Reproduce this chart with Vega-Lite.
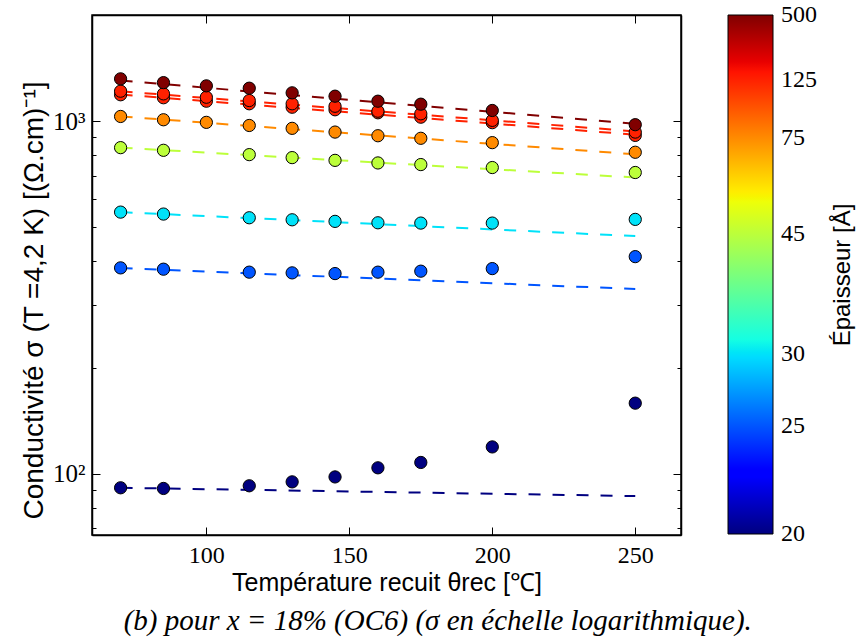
{
  "$schema": "https://vega.github.io/schema/vega-lite/v6.json",
  "width": 589,
  "height": 520,
  "autosize": "none",
  "padding": {"left": 92, "top": 15, "right": 179, "bottom": 105},
  "background": "white",
  "config": {
    "view": {"stroke": "black", "strokeWidth": 1.5},
    "axis": {"domainColor": "black", "domainWidth": 1.5, "tickColor": "black", "tickWidth": 1, "grid": false, "labelColor": "black", "titleColor": "black"}
  },
  "title": {"text": "(b) pour x = 18% (OC6) (σ en échelle logarithmique).", "orient": "bottom", "frame": "bounds", "anchor": "middle", "font": "Liberation Serif", "fontStyle": "italic", "fontWeight": "normal", "fontSize": 29, "offset": 12, "color": "black"},
  "data": {"values": [
    {"s": "S20", "ep": 20, "k": "pt", "x": 70, "v": 91.2},
    {"s": "S20", "ep": 20, "k": "pt", "x": 85, "v": 90.8},
    {"s": "S20", "ep": 20, "k": "pt", "x": 115, "v": 92.4},
    {"s": "S20", "ep": 20, "k": "pt", "x": 130, "v": 94.8},
    {"s": "S20", "ep": 20, "k": "pt", "x": 145, "v": 97.9},
    {"s": "S20", "ep": 20, "k": "pt", "x": 160, "v": 103.9},
    {"s": "S20", "ep": 20, "k": "pt", "x": 175, "v": 107.6},
    {"s": "S20", "ep": 20, "k": "pt", "x": 200, "v": 119.1},
    {"s": "S20", "ep": 20, "k": "pt", "x": 250, "v": 158.5},
    {"s": "S20", "ep": 20, "k": "fit", "x": 70, "v": 91.2},
    {"s": "S20", "ep": 20, "k": "fit", "x": 250, "v": 86.4},
    {"s": "S25", "ep": 25, "k": "pt", "x": 70, "v": 383.5},
    {"s": "S25", "ep": 25, "k": "pt", "x": 85, "v": 380.2},
    {"s": "S25", "ep": 25, "k": "pt", "x": 115, "v": 372.9},
    {"s": "S25", "ep": 25, "k": "pt", "x": 130, "v": 371.2},
    {"s": "S25", "ep": 25, "k": "pt", "x": 145, "v": 369.5},
    {"s": "S25", "ep": 25, "k": "pt", "x": 160, "v": 372.9},
    {"s": "S25", "ep": 25, "k": "pt", "x": 175, "v": 375.3},
    {"s": "S25", "ep": 25, "k": "pt", "x": 200, "v": 381.7},
    {"s": "S25", "ep": 25, "k": "pt", "x": 250, "v": 412.7},
    {"s": "S25", "ep": 25, "k": "fit", "x": 70, "v": 383},
    {"s": "S25", "ep": 25, "k": "fit", "x": 250, "v": 334},
    {"s": "S30", "ep": 30, "k": "pt", "x": 70, "v": 552},
    {"s": "S30", "ep": 30, "k": "pt", "x": 85, "v": 545},
    {"s": "S30", "ep": 30, "k": "pt", "x": 115, "v": 532},
    {"s": "S30", "ep": 30, "k": "pt", "x": 130, "v": 525},
    {"s": "S30", "ep": 30, "k": "pt", "x": 145, "v": 519.6},
    {"s": "S30", "ep": 30, "k": "pt", "x": 160, "v": 514.8},
    {"s": "S30", "ep": 30, "k": "pt", "x": 175, "v": 513.8},
    {"s": "S30", "ep": 30, "k": "pt", "x": 200, "v": 513.8},
    {"s": "S30", "ep": 30, "k": "pt", "x": 250, "v": 526.4},
    {"s": "S30", "ep": 30, "k": "fit", "x": 70, "v": 552},
    {"s": "S30", "ep": 30, "k": "fit", "x": 250, "v": 472},
    {"s": "S45", "ep": 45, "k": "pt", "x": 70, "v": 841},
    {"s": "S45", "ep": 45, "k": "pt", "x": 85, "v": 826.5},
    {"s": "S45", "ep": 45, "k": "pt", "x": 115, "v": 803.5},
    {"s": "S45", "ep": 45, "k": "pt", "x": 130, "v": 788},
    {"s": "S45", "ep": 45, "k": "pt", "x": 145, "v": 774},
    {"s": "S45", "ep": 45, "k": "pt", "x": 160, "v": 761},
    {"s": "S45", "ep": 45, "k": "pt", "x": 175, "v": 753},
    {"s": "S45", "ep": 45, "k": "pt", "x": 200, "v": 738.5},
    {"s": "S45", "ep": 45, "k": "pt", "x": 250, "v": 715},
    {"s": "S45", "ep": 45, "k": "fit", "x": 70, "v": 841},
    {"s": "S45", "ep": 45, "k": "fit", "x": 250, "v": 692},
    {"s": "S75", "ep": 75, "k": "pt", "x": 70, "v": 1031},
    {"s": "S75", "ep": 75, "k": "pt", "x": 85, "v": 1009},
    {"s": "S75", "ep": 75, "k": "pt", "x": 100, "v": 992},
    {"s": "S75", "ep": 75, "k": "pt", "x": 115, "v": 972},
    {"s": "S75", "ep": 75, "k": "pt", "x": 130, "v": 954},
    {"s": "S75", "ep": 75, "k": "pt", "x": 145, "v": 931},
    {"s": "S75", "ep": 75, "k": "pt", "x": 160, "v": 909},
    {"s": "S75", "ep": 75, "k": "pt", "x": 175, "v": 894},
    {"s": "S75", "ep": 75, "k": "pt", "x": 200, "v": 869},
    {"s": "S75", "ep": 75, "k": "pt", "x": 250, "v": 816},
    {"s": "S75", "ep": 75, "k": "fit", "x": 70, "v": 1031},
    {"s": "S75", "ep": 75, "k": "fit", "x": 250, "v": 805},
    {"s": "S125b", "ep": 125, "k": "pt", "x": 70, "v": 1188},
    {"s": "S125b", "ep": 125, "k": "pt", "x": 85, "v": 1165},
    {"s": "S125b", "ep": 125, "k": "pt", "x": 100, "v": 1139},
    {"s": "S125b", "ep": 125, "k": "pt", "x": 115, "v": 1120},
    {"s": "S125b", "ep": 125, "k": "pt", "x": 130, "v": 1095},
    {"s": "S125b", "ep": 125, "k": "pt", "x": 145, "v": 1077},
    {"s": "S125b", "ep": 125, "k": "pt", "x": 160, "v": 1056},
    {"s": "S125b", "ep": 125, "k": "pt", "x": 175, "v": 1026},
    {"s": "S125b", "ep": 125, "k": "pt", "x": 200, "v": 990},
    {"s": "S125b", "ep": 125, "k": "pt", "x": 250, "v": 911},
    {"s": "S125b", "ep": 125, "k": "fit", "x": 70, "v": 1190},
    {"s": "S125b", "ep": 125, "k": "fit", "x": 250, "v": 915},
    {"s": "S125a", "ep": 125, "k": "pt", "x": 70, "v": 1216},
    {"s": "S125a", "ep": 125, "k": "pt", "x": 85, "v": 1195},
    {"s": "S125a", "ep": 125, "k": "pt", "x": 100, "v": 1169},
    {"s": "S125a", "ep": 125, "k": "pt", "x": 115, "v": 1144},
    {"s": "S125a", "ep": 125, "k": "pt", "x": 130, "v": 1120},
    {"s": "S125a", "ep": 125, "k": "pt", "x": 145, "v": 1102},
    {"s": "S125a", "ep": 125, "k": "pt", "x": 160, "v": 1067},
    {"s": "S125a", "ep": 125, "k": "pt", "x": 175, "v": 1049},
    {"s": "S125a", "ep": 125, "k": "pt", "x": 200, "v": 1005},
    {"s": "S125a", "ep": 125, "k": "pt", "x": 250, "v": 931},
    {"s": "S125a", "ep": 125, "k": "fit", "x": 70, "v": 1215},
    {"s": "S125a", "ep": 125, "k": "fit", "x": 250, "v": 935},
    {"s": "S500", "ep": 500, "k": "pt", "x": 70, "v": 1318},
    {"s": "S500", "ep": 500, "k": "pt", "x": 85, "v": 1286},
    {"s": "S500", "ep": 500, "k": "pt", "x": 100, "v": 1259},
    {"s": "S500", "ep": 500, "k": "pt", "x": 115, "v": 1240},
    {"s": "S500", "ep": 500, "k": "pt", "x": 130, "v": 1203},
    {"s": "S500", "ep": 500, "k": "pt", "x": 145, "v": 1177},
    {"s": "S500", "ep": 500, "k": "pt", "x": 160, "v": 1139},
    {"s": "S500", "ep": 500, "k": "pt", "x": 175, "v": 1117},
    {"s": "S500", "ep": 500, "k": "pt", "x": 200, "v": 1072},
    {"s": "S500", "ep": 500, "k": "pt", "x": 250, "v": 977},
    {"s": "S500", "ep": 500, "k": "fit", "x": 70, "v": 1303},
    {"s": "S500", "ep": 500, "k": "fit", "x": 250, "v": 983}
  ]},
  "resolve": {"axis": {"x": "independent", "y": "independent"}},
  "layer": [
    {
      "transform": [{"filter": "datum.k == 'fit'"}],
      "mark": {"type": "line", "strokeDash": [12, 12], "strokeWidth": 2},
      "encoding": {
        "x": {"field": "x", "type": "quantitative",
          "scale": {"domain": [60, 266], "nice": false, "zero": false},
          "axis": {"orient": "bottom", "values": [100, 150, 200, 250], "tickSize": -8, "labelPadding": 16, "labelFont": "Liberation Serif", "labelFontSize": 24, "title": "Température recuit θrec [℃]", "titleFont": "Liberation Sans", "titleFontSize": 25, "titleFontWeight": "normal", "titlePadding": 3}},
        "y": {"field": "v", "type": "quantitative",
          "scale": {"type": "log", "domain": [67, 2000], "nice": false},
          "axis": {"orient": "left", "values": [70, 80, 90, 100, 200, 300, 400, 500, 600, 700, 800, 900, 1000],
            "labelExpr": "datum.value == 1000 ? '10³' : (datum.value == 100 ? '10²' : '')",
            "tickSize": {"condition": {"test": "datum.value == 100 || datum.value == 1000", "value": -8}, "value": -4},
            "labelPadding": 15, "labelFont": "Liberation Serif", "labelFontSize": 25,
            "title": "Conductivité σ (T =4,2 K) [(Ω.cm)⁻¹]", "titleFont": "Liberation Sans", "titleFontSize": 28, "titleFontWeight": "normal", "titlePadding": 4, "titleY": 285}},
        "stroke": {"field": "ep", "type": "quantitative", "legend": null,
          "scale": {"type": "pow", "exponent": -1, "interpolate": "rgb", "nice": false, "zero": false,
            "domain": [19.999, 22.361, 22.727, 29.691, 30.12, 31.25, 51.867, 53.191, 54.585, 137.36, 158.23, 500.001],
            "range": ["#000080", "#0000ff", "#0000ff", "#00dbff", "#00e5f7", "#15ffe2", "#eeff08", "#f7f500", "#ffec00", "#ff1300", "#e80000", "#800000"]}},
        "detail": {"field": "s"}
      }
    },
    {
      "transform": [{"filter": "datum.k == 'pt'"}],
      "mark": {"type": "circle", "size": 150, "stroke": "black", "strokeWidth": 1, "opacity": 1},
      "encoding": {
        "x": {"field": "x", "type": "quantitative",
          "axis": {"orient": "top", "values": [100, 150, 200, 250], "tickSize": -8, "labels": false, "title": null}},
        "y": {"field": "v", "type": "quantitative",
          "axis": {"orient": "right", "values": [70, 80, 90, 100, 200, 300, 400, 500, 600, 700, 800, 900, 1000],
            "tickSize": {"condition": {"test": "datum.value == 100 || datum.value == 1000", "value": -8}, "value": -4},
            "labels": false, "title": null}},
        "fill": {"field": "ep", "type": "quantitative",
          "scale": {"type": "pow", "exponent": -1, "interpolate": "rgb", "nice": false, "zero": false,
            "domain": [20, 22.361, 22.727, 29.691, 30.12, 31.25, 51.867, 53.191, 54.585, 137.36, 158.23, 500],
            "range": ["#000080", "#0000ff", "#0000ff", "#00dbff", "#00e5f7", "#15ffe2", "#eeff08", "#f7f500", "#ffec00", "#ff1300", "#e80000", "#800000"]},
          "legend": {"type": "gradient", "values": [20, 25, 30, 45, 75, 125, 500], "title": "Épaisseur [Å]",
            "orient": "right", "offset": 46, "padding": 0, "direction": "vertical",
            "gradientLength": 519, "gradientThickness": 45, "gradientStrokeColor": "black", "gradientStrokeWidth": 1,
            "labelFont": "Liberation Serif", "labelFontSize": 24, "labelColor": "black", "labelOffset": 8, "labelOverlap": false,
            "titleFont": "Liberation Sans", "titleFontSize": 24, "titleFontWeight": "normal", "titleColor": "black",
            "titleOrient": "right", "titleAnchor": "middle", "titlePadding": 14,
            "encoding": {
              "title": {"angle": {"value": -90}, "align": {"value": "center"}, "baseline": {"value": "top"}},
              "labels": {"baseline": {"value": "middle"}},
              "gradient": {"fill": {"value": {"gradient": "linear", "x1": 0, "y1": 0, "x2": 0, "y2": 1, "stops": [
                {"offset": 0, "color": "#800000"},
                {"offset": 0.09, "color": "#e80000"},
                {"offset": 0.11, "color": "#ff1300"},
                {"offset": 0.34, "color": "#ffec00"},
                {"offset": 0.35, "color": "#f7f500"},
                {"offset": 0.36, "color": "#eeff08"},
                {"offset": 0.625, "color": "#15ffe2"},
                {"offset": 0.65, "color": "#00e5f7"},
                {"offset": 0.66, "color": "#00dbff"},
                {"offset": 0.875, "color": "#0000ff"},
                {"offset": 0.89, "color": "#0000ff"},
                {"offset": 1, "color": "#000080"}
              ]}}}
            }}
        }
      }
    }
  ]
}
